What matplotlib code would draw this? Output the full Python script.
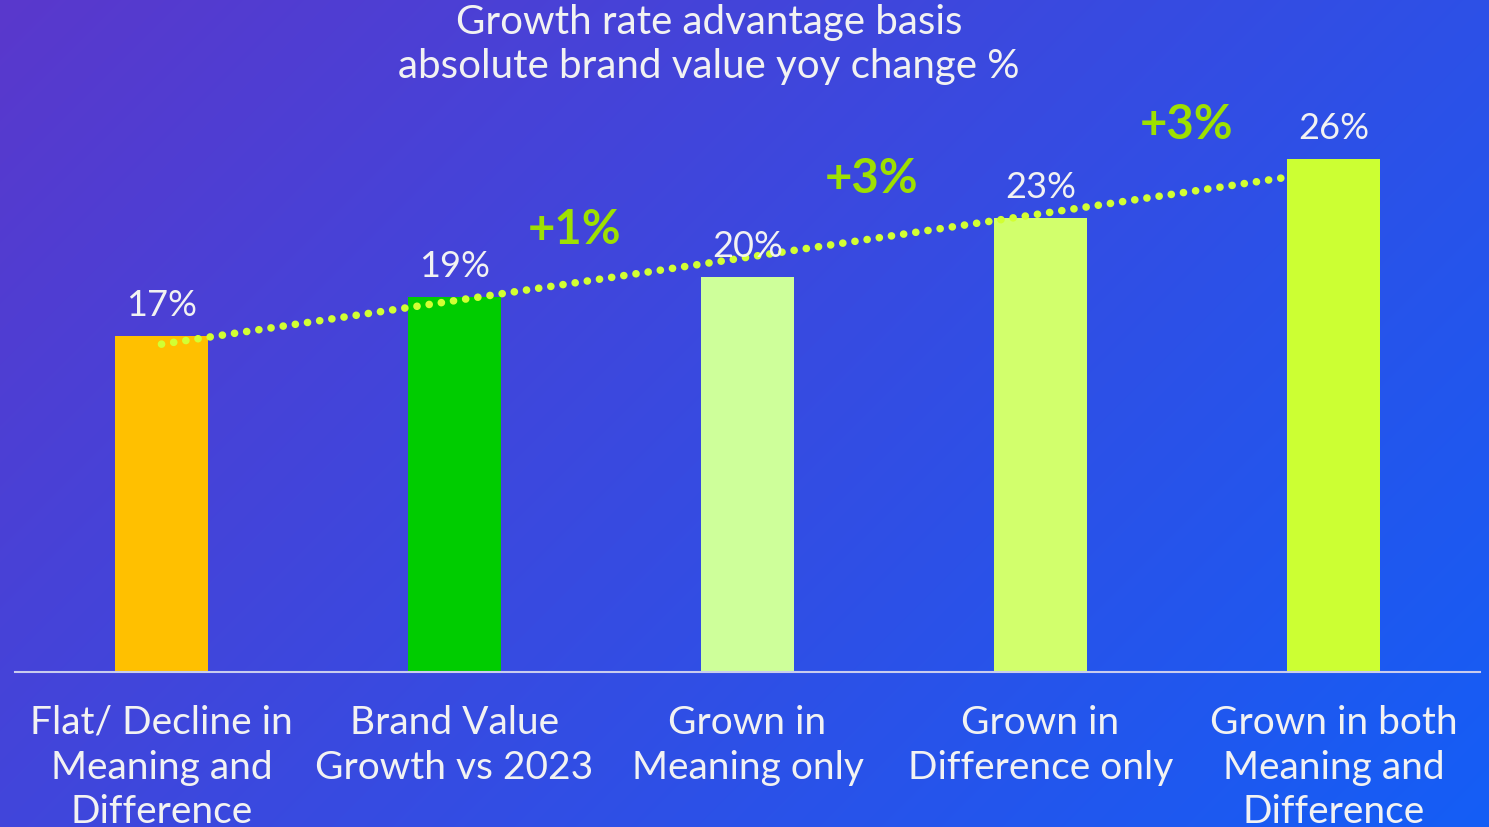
import matplotlib
matplotlib.use('Agg')
import matplotlib.pyplot as plt
import numpy as np
from matplotlib.colors import to_rgb

# Datos del grafico
categories = [
    "Flat/ Decline in\nMeaning and\nDifference",
    "Brand Value\nGrowth vs 2023",
    "Grown in\nMeaning only",
    "Grown in\nDifference only",
    "Grown in both\nMeaning and\nDifference",
]
values = [17, 19, 20, 23, 26]
bar_colors = ["#FFC000", "#00CC00", "#CEFF9A", "#D2FF6C", "#CCFF33"]
title_lines = ["Growth rate advantage basis", "absolute brand value yoy change %"]

W, H, DPI = 1489, 828, 100
plt.rcParams['font.family'] = ['Lato', 'DejaVu Sans']

fig = plt.figure(figsize=(W / DPI, H / DPI), dpi=DPI)

# Fondo degradado diagonal morado -> azul
bg = fig.add_axes([0, 0, 1, 1])
bg.set_axis_off()
c0 = np.array(to_rgb("#5A38CC"))
c1 = np.array(to_rgb("#145EF6"))
xx, yy = np.meshgrid(np.arange(W), np.arange(H))
t = (xx + yy) / (W + H)
grad = c0[None, None, :] * (1 - t[..., None]) + c1[None, None, :] * t[..., None]
bg.imshow(grad, aspect='auto', extent=[0, 1, 0, 1], origin='upper')
bg.set_xlim(0, 1)
bg.set_ylim(0, 1)

# Eje principal
ax = fig.add_axes([15 / W, 155 / H, 1465 / W, 592.5 / H])
ax.set_facecolor('none')
x = np.arange(len(values))
ax.bar(x, values, width=0.315, color=bar_colors, edgecolor='none', zorder=2)
ax.set_xlim(-0.5, 4.5)
ax.set_ylim(0, 30)

# Etiquetas de valor
for xi, v in zip(x, values):
    ax.annotate(f"{v}%", (xi, v), xytext=(0, 15), textcoords='offset points',
                ha='center', va='baseline', fontsize=26, color='#F2F2F2', zorder=4)

# Linea de tendencia punteada
slope, intercept = np.polyfit(x, values, 1)
tx = np.array([0, 3.84])
ax.plot(tx, intercept + slope * tx, color='#D2FF33', lw=5.5,
        linestyle=(0, (0.01, 1.6)), dash_capstyle='round', zorder=3)

# Diferencias entre categorias consecutivas (desplazamientos en px)
offsets_px = [(-26, 48), (-22, 40), (0, 35)]
for i in range(1, len(values) - 1):
    diff = values[i + 1] - values[i]
    dx, dy = offsets_px[i - 1]
    ax.annotate(f"+{diff}%", (i + 0.5, values[i + 1]),
                xytext=(dx * 0.72, dy * 0.72), textcoords='offset points',
                ha='center', va='center', fontsize=34, fontweight='bold',
                color='#9EE000', zorder=4)

# Ejes
ax.set_xticks(x)
ax.set_xticklabels(categories, fontsize=28, color='#F2F2F2', linespacing=1.3)
ax.tick_params(axis='x', length=0, pad=23)
ax.set_yticks([])
for side in ['top', 'left', 'right']:
    ax.spines[side].set_visible(False)
ax.spines['bottom'].set_color('#C9CCEE')
ax.spines['bottom'].set_linewidth(1.5)

fig.text(709 / W, 1 - 44.5 / H, "\n".join(title_lines), ha='center', va='center',
         fontsize=29, color='#F2F2F2', linespacing=1.22)

fig.savefig('out.png', dpi=DPI)
